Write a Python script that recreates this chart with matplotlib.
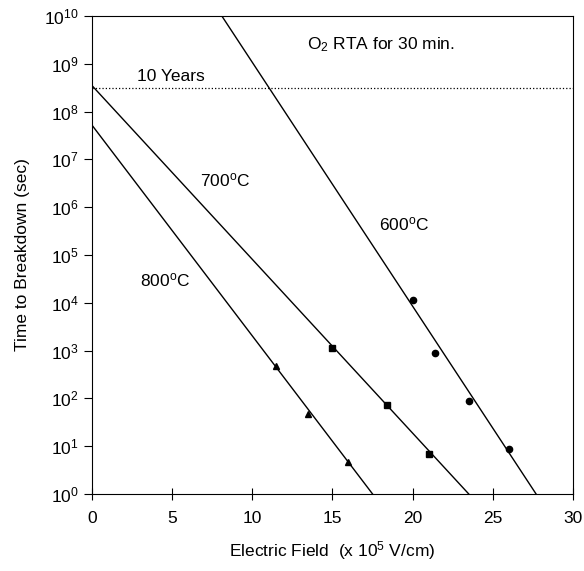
import matplotlib
matplotlib.use('Agg')
import matplotlib.pyplot as plt

plt.rcParams['font.family'] = ['Liberation Sans', 'DejaVu Sans']
plt.rcParams['mathtext.fontset'] = 'custom'
plt.rcParams['mathtext.rm'] = 'Liberation Sans'
plt.rcParams['mathtext.it'] = 'Liberation Sans'
plt.rcParams['mathtext.bf'] = 'Liberation Sans:bold'

# measured breakdown times
x_800 = [11.5, 13.5, 16.0]
t_800 = [475, 47, 4.7]
x_700 = [15.0, 18.4, 21.0]
t_700 = [1130, 73, 6.9]
x_600 = [20.0, 21.4, 23.5, 26.0]
t_600 = [11500, 890, 89, 8.7]

# fitted lines (end points)
fit_800_x = [0, 17.5]
fit_800_y = [5.2e7, 1]
fit_700_x = [0, 23.5]
fit_700_y = [3.5e8, 1]
fit_600_x = [8.1, 27.7]
fit_600_y = [1e10, 1]

ten_years = 3.15e8

fig = plt.figure(figsize=(5.84, 5.71), dpi=100)
ax = fig.add_axes([0.1575, 0.135, 0.8235, 0.837])

ax.plot(fit_800_x, fit_800_y, color='black', lw=1.0)
ax.plot(fit_700_x, fit_700_y, color='black', lw=1.0)
ax.plot(fit_600_x, fit_600_y, color='black', lw=1.0)
ax.plot(x_800, t_800, '^', color='black', ms=4)
ax.plot(x_700, t_700, 's', color='black', ms=4)
ax.plot(x_600, t_600, 'o', color='black', ms=4.5)
ax.plot([0, 30], [ten_years, ten_years], ':', color='black', lw=0.9)

ax.set_yscale('log')
ax.set_xlim(0, 30)
ax.set_ylim(1, 1e10)
ax.set_xticks([0, 5, 10, 15, 20, 25, 30])
ax.set_yticks([10.0**i for i in range(11)])
ax.minorticks_off()
ax.tick_params(axis='y', direction='out', length=6, labelsize=12.5)
ax.tick_params(axis='x', direction='inout', length=8, labelsize=12.5, pad=8)

deg = r'$^{\mathrm{o}}$C'
ax.text(4.9, 10**8.74, '10 Years', fontsize=12.5, ha='center', va='center')
ax.text(18.0, 10**9.4, 'O$_2$ RTA for 30 min.', fontsize=12.5, ha='center', va='center')
ax.text(8.3, 10**6.57, '700' + deg, fontsize=12.5, ha='center', va='center')
ax.text(19.5, 10**5.65, '600' + deg, fontsize=12.5, ha='center', va='center')
ax.text(4.55, 10**4.48, '800' + deg, fontsize=12.5, ha='center', va='center')

ax.set_xlabel('Electric Field  (x 10$^5$ V/cm)', fontsize=12.5, labelpad=10)
ax.set_ylabel('Time to Breakdown (sec)', fontsize=12.5, labelpad=10)

plt.savefig('out.png')
